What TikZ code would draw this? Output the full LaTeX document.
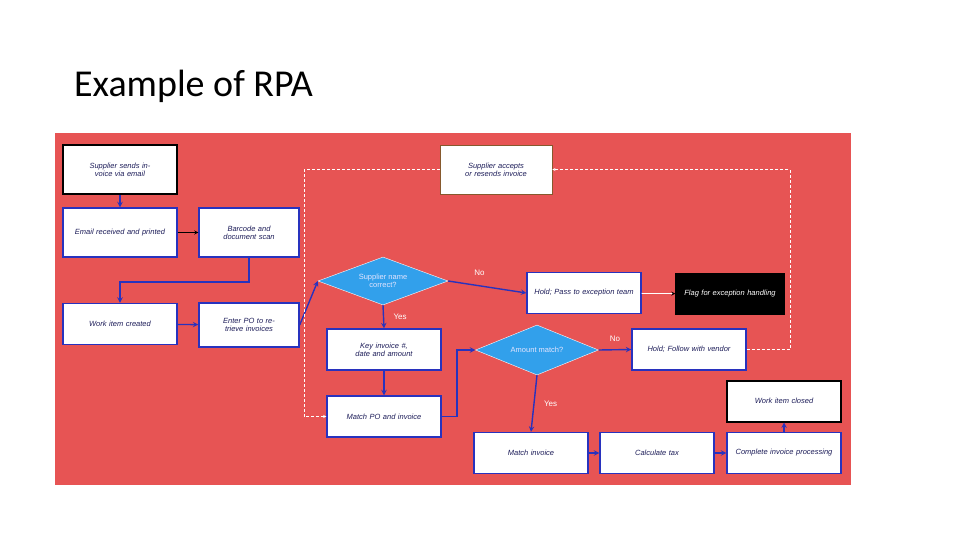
\documentclass[tikz,border=0pt]{standalone}
\usepackage{fontspec}
\setmainfont{Liberation Sans}
\newfontfamily\titlefont{Carlito}
\usetikzlibrary{shapes.geometric, arrows, positioning}
\definecolor{bgred}{RGB}{231,84,84}
\definecolor{boxblue}{RGB}{40,50,190}
\definecolor{txtblue}{RGB}{30,30,90}
\definecolor{diafill}{RGB}{50,160,235}
\tikzstyle{task} = [rectangle, minimum width=114pt, minimum height=41pt, text width=104pt, align=center, draw=boxblue, line width=1.4pt, fill=white, text=txtblue, font=\itshape\fontsize{7.5}{8}\selectfont, inner sep=1pt]
\tikzstyle{decision} = [diamond, aspect=2.6, inner sep=1pt, draw=white, fill=diafill, text=white!90!blue, align=center, font=\fontsize{7.5}{8}\selectfont]
\tikzstyle{arrow} = [line width=1.4pt, draw=boxblue, ->, >=stealth]
\tikzstyle{feedback} = [densely dashed, thin, draw=white, ->, >=stealth]
\tikzstyle{lbl} = [text=white, font=\fontsize{8}{9}\selectfont]

\begin{document}
\begin{tikzpicture}[x=1pt, y=-1pt]
        \useasboundingbox (0,0) rectangle (960,540);
        \fill [bgred] (55,133) rectangle (851,485);
        \node (title) [anchor=base west, font=\titlefont\fontsize{38}{40}\selectfont, inner sep=0pt] at (74,97) {Example of RPA};

        \node (send) [task, draw=black, line width=2pt, minimum height=49pt] at (120,169.5) {Supplier sends invoice via email};
        \node (email) [task, minimum height=49pt] at (120,232.5) {Email received and printed};
        \node (scan) [task, minimum width=100pt, text width=90pt, minimum height=49pt] at (249,232.5) {Barcode and document scan};
        \node (work) [task] at (120,324) {Work item created};
        \node (enter) [task, minimum width=100pt, text width=94pt, minimum height=44pt] at (249,325) {Enter PO to retrieve invoices};
        \node (name) [decision, minimum width=130pt, minimum height=48pt] at (383,281) {Supplier name\\correct?};
        \node (key) [task] at (384,349.5) {Key invoice \#, date and amount};
        \node (matchpo) [task] at (384,416.5) {Match PO and invoice};
        \node (accept) [task, draw=brown!70!black, line width=0.8pt, minimum width=112pt, minimum height=49pt, text width=100pt] at (496,169.5) {Supplier accepts or resends invoice};
        \node (pass) [task] at (584,293) {Hold; Pass to exception team};
        \node (flag) [task, fill=black, draw=black, text=white, minimum width=108pt, text width=98pt] at (730,294) {Flag for exception handling};
        \node (amount) [decision, minimum width=123pt, minimum height=50pt] at (537,350) {Amount match?};
        \node (follow) [task] at (689,349.5) {Hold; Follow with vendor};
        \node (closed) [task, draw=black, line width=2pt] at (784,401) {Work item closed};
        \node (matchinv) [task] at (531,453) {Match invoice};
        \node (tax) [task] at (657,453) {Calculate tax};
        \node (complete) [task] at (784,453) {Complete invoice processing};

        \draw [arrow] (send) -- (email);
        \draw [line width=0.8pt, ->, >=stealth] (email) -- (scan);
        \draw [arrow] (scan.south) |- (120,282) -- (work.north);
        \draw [arrow] (work) -- (enter);
        \draw [arrow] (enter.east) -- (name.west);
        \draw [arrow] (name.south) -- (key.north) node [lbl, midway, right=6pt] {Yes};
        \draw [arrow] (name.east) -- (pass.west) node [lbl, pos=0.4, above=6pt] {No};
        \draw [arrow] (key) -- (matchpo);
        \draw [arrow] (matchpo.east) -- (457,416.5) |- (amount.west);
        \draw [arrow] (amount.east) -- (follow.west) node [lbl, midway, above=4pt] {No};
        \draw [arrow] (amount.south) -- (matchinv.north) node [lbl, midway, right=6pt] {Yes};
        \draw [draw=white, line width=0.8pt, -{stealth[black]}] (pass) -- (flag);
        \draw [arrow] (matchinv) -- (tax);
        \draw [arrow] (tax) -- (complete);
        \draw [arrow] (complete) -- (closed);
        \draw [feedback] (follow.east) -| (790,169.5) -- (accept.east);
        \draw [feedback] (accept.west) -| (304,416.5) -- (matchpo.west);
    \end{tikzpicture}
\end{document}
